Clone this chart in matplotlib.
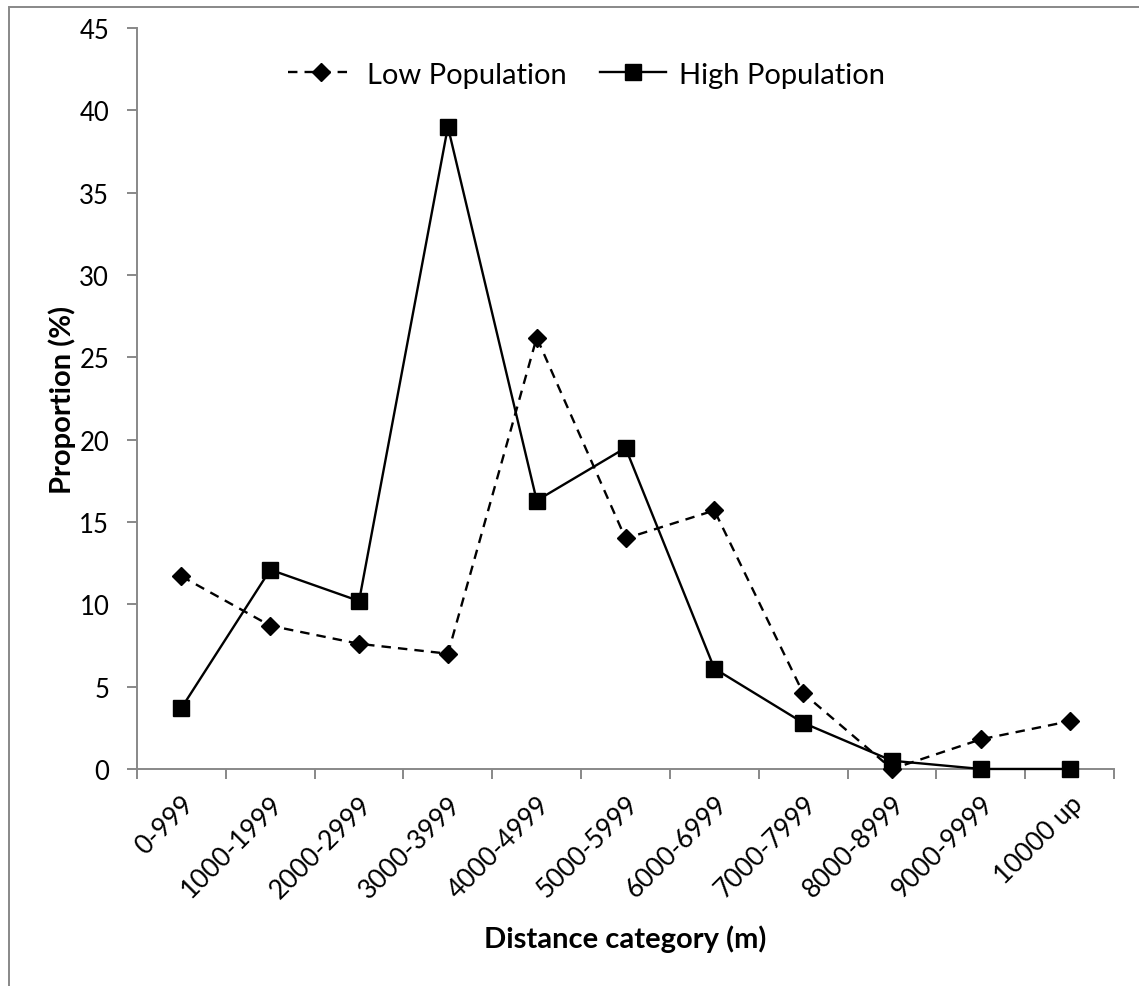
import matplotlib.pyplot as plt
import numpy as np
from matplotlib.patches import Rectangle

plt.rcParams['font.family'] = ['Lato', 'DejaVu Sans']

categories = ["0-999", "1000-1999", "2000-2999", "3000-3999", "4000-4999",
              "5000-5999", "6000-6999", "7000-7999", "8000-8999", "9000-9999",
              "10000 up"]
low_pop = [11.7, 8.7, 7.6, 7.0, 26.2, 14.0, 15.7, 4.6, 0.0, 1.8, 2.9]
high_pop = [3.7, 12.1, 10.2, 39.0, 16.3, 19.5, 6.1, 2.8, 0.5, 0.0, 0.0]

fig = plt.figure(figsize=(11.39, 9.87), dpi=100)
# outer chart border (runs off the right and bottom edges)
fig.patches.append(Rectangle((0.0075, -0.01), 1.0, 1.002, transform=fig.transFigure,
                             fill=False, edgecolor='#888888', linewidth=1.4))
ax = fig.add_axes([0.1203, 0.2199, 0.8578, 0.7507])

x = np.arange(len(categories))
ax.plot(x, low_pop, color='black', linestyle=(0, (4, 3)), linewidth=1.7,
        marker='D', markersize=9, label='Low Population', clip_on=False, zorder=3)
ax.plot(x, high_pop, color='black', linestyle='-', linewidth=1.7,
        marker='s', markersize=11.5, label='High Population', clip_on=False, zorder=4)

ax.set_xlim(-0.5, len(categories) - 0.5)
ax.set_ylim(0, 45)
ax.set_yticks(np.arange(0, 46, 5))
ax.set_xticks(x)
ax.set_xticklabels(categories, rotation=45, ha='right', rotation_mode='anchor')
ax.set_xticks(np.arange(-0.5, len(categories)), minor=True)
ax.tick_params(axis='x', which='major', length=0, labelsize=19, pad=16)
ax.tick_params(axis='x', which='minor', length=7, width=1.4, color='#888888')
ax.tick_params(axis='y', length=7, width=1.4, color='#888888', labelsize=18.5, pad=13)

for s in ['top', 'right']:
    ax.spines[s].set_visible(False)
for s in ['left', 'bottom']:
    ax.spines[s].set_color('#888888')
    ax.spines[s].set_linewidth(1.4)

ax.set_ylabel('Proportion (%)', fontsize=21, fontweight='bold', labelpad=2)
ax.set_xlabel('Distance category (m)', fontsize=21, fontweight='bold', labelpad=16)

ax.legend(loc='center', bbox_to_anchor=(0.46, 0.937), ncol=2, frameon=False,
          fontsize=21, handlelength=2.25, handletextpad=0.45, columnspacing=1.15,
          borderpad=0)

fig.savefig('out.png', dpi=100)
